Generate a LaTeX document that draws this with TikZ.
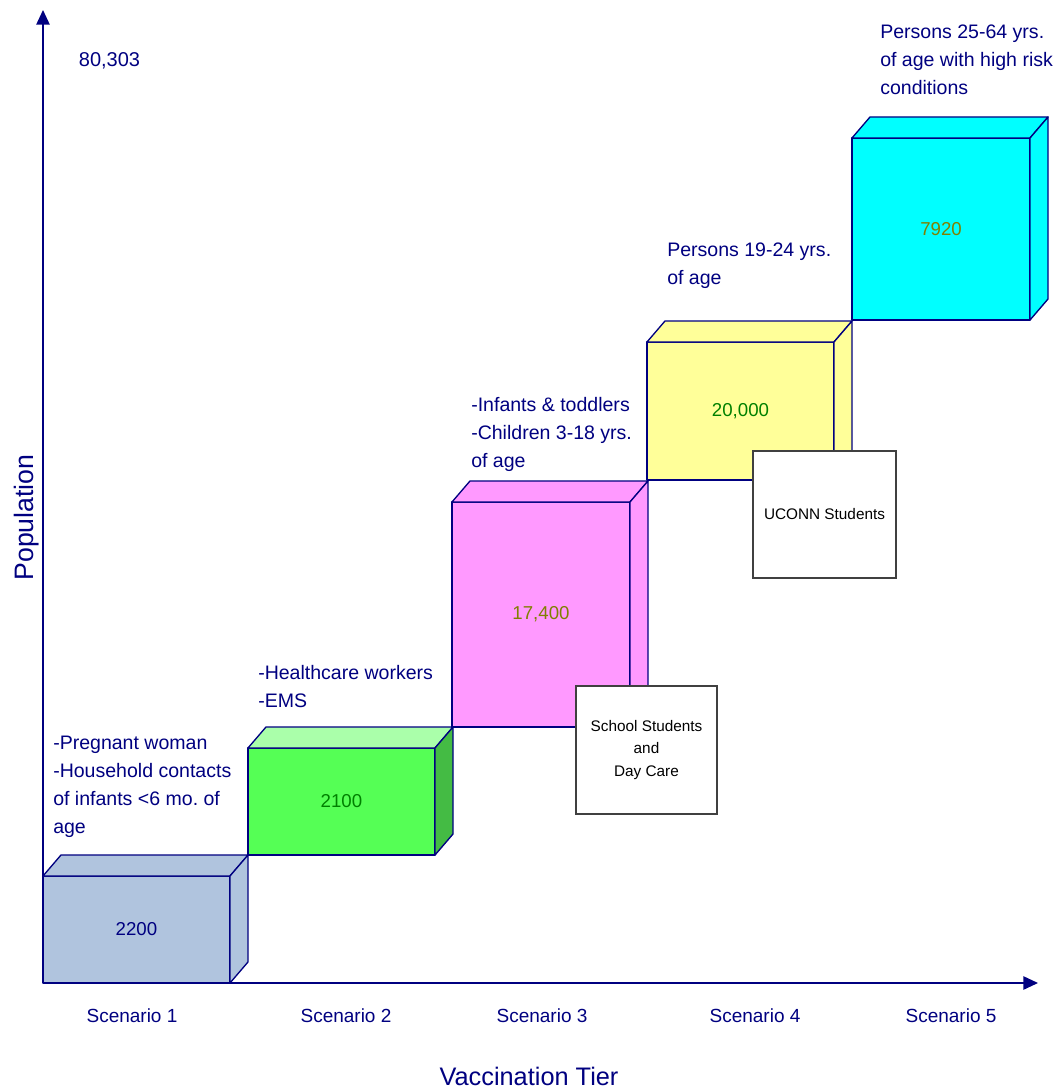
\documentclass[tikz,border=0pt]{standalone}
\usepackage{fontspec}
\setmainfont{Liberation Sans}
\usepackage{tikz}
\usetikzlibrary{arrows.meta}
\frenchspacing

\definecolor{tiernavy}{RGB}{0,0,128}
\definecolor{tiergray}{HTML}{B0C4DE}
\definecolor{tiergreen}{HTML}{55FF55}
\definecolor{tiergreentop}{HTML}{AAFFAA}
\definecolor{tiergreenside}{HTML}{44BB44}
\definecolor{tierpink}{HTML}{FF99FF}
\definecolor{tieryellow}{HTML}{FFFF99}
\definecolor{tiercyan}{HTML}{00FFFF}
\definecolor{numgreen}{HTML}{008000}
\definecolor{numolive}{HTML}{808000}
\definecolor{noteborder}{HTML}{404040}

% front (x1,y1)-(x2,y2), then fills of front, top, side
\newcommand{\tiercube}[7]{%
  \filldraw[fill=#5] (#1,#2) rectangle (#3,#4);
  \filldraw[fill=#6] (#1,#2) -- (#1+18,#2-21) -- (#3+18,#2-21) -- (#3,#2) -- cycle;
  \filldraw[fill=#7] (#3,#2) -- (#3+18,#2-21) -- (#3+18,#4-21) -- (#3,#4) -- cycle;
}

\begin{document}
\begin{tikzpicture}[x=0.75pt,y=-0.75pt,
    axis/.style={draw=tiernavy,line width=1.2pt,-{Triangle[length=11pt,width=10pt]}},
    tierlabel/.style={anchor=north west,inner sep=0pt,align=left,text=tiernavy,font=\fontsize{14.65}{21}\selectfont},
    tiernum/.style={inner sep=0pt,font=\fontsize{14}{16}\selectfont},
    scenario/.style={anchor=base,inner sep=0pt,text=tiernavy,font=\fontsize{14.25}{17}\selectfont},
    notebox/.style={draw=noteborder,fill=white,line width=0.8pt,inner sep=0pt,align=center,font=\fontsize{11.5}{17.2}\selectfont}]
  \useasboundingbox (0,0) rectangle (1061,1091);
  %
  \coordinate (O) at (43,983);
  \coordinate (ytop) at (43,10);
  \coordinate (xend) at (1038,983);
  \draw[axis] (O) -- (ytop);
  \draw[axis] (O) -- (xend);
  %
  \begin{scope}[draw=tiernavy,line width=1pt,line join=round]
    \tiercube{43}{876}{230}{983}{tiergray}{tiergray}{tiergray}
    \tiercube{248}{748}{435}{855}{tiergreen}{tiergreentop}{tiergreenside}
    \tiercube{452}{502}{630}{727}{tierpink}{tierpink}{tierpink}
    \tiercube{647}{342}{834}{480}{tieryellow}{tieryellow}{tieryellow}
    \tiercube{852}{138}{1030}{320}{tiercyan}{tiercyan}{tiercyan}
  \end{scope}
  %
  \node[tiernum,text=tiernavy] (n1) at (136.5,929.5) {2200};
  \node[tiernum,text=numgreen] (n2) at (341.5,801.5) {2100};
  \node[tiernum,text=numolive] (n3) at (541,614.5) {17,400};
  \node[tiernum,text=numgreen] (n4) at (740.5,411) {20,000};
  \node[tiernum,text=numolive] (n5) at (941,229) {7920};
  %
  \node[notebox,minimum width=105.75pt,minimum height=96pt] (school) at (646.5,750) {School Students\\and\\Day Care};
  \node[notebox,minimum width=107.25pt,minimum height=95.25pt] (uconn) at (824.5,514.5) {UCONN Students};
  %
  \node[tierlabel] (t1) at (53,736) {-Pregnant woman\\-Household contacts\\of infants <6 mo. of\\age};
  \node[tierlabel] (t2) at (258,665) {-Healthcare workers\\-EMS};
  \node[tierlabel] (t3) at (471,397) {-Infants \& toddlers\\-Children 3-18 yrs.\\of age};
  \node[tierlabel] (t4) at (667,243) {Persons 19-24 yrs.\\of age};
  \node[tierlabel] (t5) at (880,25) {Persons 25-64 yrs.\\of age with high risk\\conditions};
  %
  \node[anchor=base,inner sep=0pt,text=tiernavy,font=\fontsize{15}{18}\selectfont] (total) at (109.5,67) {80,303};
  %
  \node[scenario] (s1) at (132,1022) {Scenario 1};
  \node[scenario] (s2) at (346,1022) {Scenario 2};
  \node[scenario] (s3) at (542,1022) {Scenario 3};
  \node[scenario] (s4) at (755,1022) {Scenario 4};
  \node[scenario] (s5) at (951,1022) {Scenario 5};
  %
  \node[anchor=base,inner sep=0pt,text=tiernavy,font=\fontsize{19}{22}\selectfont] (xlab) at (529,1085) {Vaccination Tier};
  \node[anchor=base,rotate=90,inner sep=0pt,text=tiernavy,font=\fontsize{20}{24}\selectfont] (ylab) at (33,517.5) {Population};
\end{tikzpicture}
\end{document}
